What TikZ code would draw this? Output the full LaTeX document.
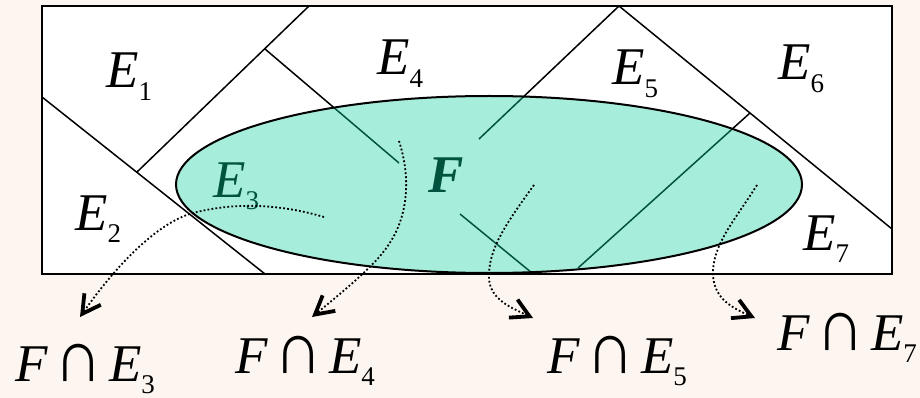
\documentclass[tikz,border=0pt]{standalone}
\usepackage{fontspec}
\setmainfont{Liberation Serif}
\usetikzlibrary{arrows.meta}
\definecolor{bgpeach}{HTML}{FDF5EF}
\definecolor{efill}{HTML}{A7EDDC}
\definecolor{dgreen}{HTML}{00533F}
\newcommand\mainsize{\fontsize{53}{60}\selectfont}
\newcommand\Esb[1]{\textit{E}\raisebox{-12.5pt}{\fontsize{27}{30}\selectfont #1}}
\newcommand\FcapE[1]{\textit{F}\hspace{6pt}\scalebox{0.9}[1]{\fontsize{74}{74}\selectfont ∩}\hspace{7pt}\Esb{#1}}
\begin{document}
\begin{tikzpicture}[x=1pt,y=-1pt,
  lbl/.style={anchor=base west, inner sep=0pt, font=\mainsize},
  region/.style={line width=1.5pt, black},
  innerline/.style={line width=1.5pt, dgreen},
  flow/.style={line width=1.8pt, dash pattern=on 1.8pt off 2.2pt,
    -{Straight Barb[length=18pt,width=20pt,line width=3.8pt 0 1]}}
]
\fill[bgpeach] (0,0) rectangle (920,398);
\clip (0,0) rectangle (920,398);
% frame
\coordinate (TL) at (42,6);
\coordinate (BR) at (892,274);
\fill[white] (TL) rectangle (BR);
% region boundaries
\coordinate (A1) at (309,6);
\coordinate (J1) at (265,49);
\coordinate (B1) at (137,172);
\coordinate (L3a) at (42,97);
\coordinate (L3b) at (265,274);
\coordinate (L2e) at (399,163);
\coordinate (Apex) at (619,6);
\coordinate (L4e) at (479,139);
\coordinate (J2) at (750,113);
\coordinate (L5e) at (892,229);
\coordinate (L6e) at (578,268);
\coordinate (L7a) at (460,214);
\coordinate (L7b) at (532,273);
\coordinate (C) at (489,184.5);
\draw[region] (A1) -- (B1);
\draw[region] (J1) -- (L2e);
\draw[region] (L3a) -- (L3b);
\draw[region] (Apex) -- (L4e);
\draw[region] (Apex) -- (L5e);
\draw[region] (J2) -- (L6e);
% set F
\fill[efill] (C) ellipse [x radius=313pt, y radius=88.5pt];
\begin{scope}
  \clip (C) ellipse [x radius=313pt, y radius=88.5pt];
  \draw[innerline] (A1) -- (B1);
  \draw[innerline] (J1) -- (L2e);
  \draw[innerline] (L3a) -- (L3b);
  \draw[innerline] (Apex) -- (L4e);
  \draw[innerline] (Apex) -- (L5e);
  \draw[innerline] (J2) -- (L6e);
  \draw[innerline] (L7a) -- (L7b);
\end{scope}
\draw[line width=2pt] (C) ellipse [x radius=313pt, y radius=88.5pt];
\draw[line width=2pt] (TL) rectangle (BR);
% labels
\node[lbl] (e1) at (106,88) {\Esb{1}};
\node[lbl] (e4) at (377,75) {\Esb{4}};
\node[lbl] (e5) at (612,85) {\Esb{5}};
\node[lbl] (e6) at (778,80) {\Esb{6}};
\node[lbl] (e2) at (75,230) {\Esb{2}};
\node[lbl, text=dgreen] (e3) at (213,197) {\Esb{3}};
\node[lbl] (e7) at (803,250) {\Esb{7}};
\node[lbl, text=dgreen] (f) at (428,193) {\textbf{\textit{F}}};
\node[lbl] (fe3) at (15,381) {\FcapE{3}};
\node[lbl] (fe4) at (235,373) {\FcapE{4}};
\node[lbl] (fe5) at (547,373) {\FcapE{5}};
\node[lbl] (fe7) at (777,350) {\FcapE{7}};
% arrows
\coordinate (s3) at (324,217);
\coordinate (m3) at (193,213);
\coordinate (t3) at (80,317);
\coordinate (s4) at (399,141);
\coordinate (m4) at (387,247);
\coordinate (t4) at (312,317);
\coordinate (s5) at (534,185);
\coordinate (m5) at (489,278);
\coordinate (t5) at (533,318);
\coordinate (s7) at (757,185);
\coordinate (m7) at (713,275);
\coordinate (t7) at (755,318);
\draw[flow] (s3) .. controls (280,204) and (235,202) .. (m3) .. controls (160,222) and (120,260) .. (t3);
\draw[flow] (s4) .. controls (410,175) and (410,215) .. (m4) .. controls (375,265) and (345,290) .. (t4);
\draw[flow] (s5) .. controls (505,225) and (488,250) .. (m5) .. controls (490,300) and (512,308) .. (t5);
\draw[flow] (s7) .. controls (735,220) and (712,245) .. (m7) .. controls (714,300) and (735,309) .. (t7);
\end{tikzpicture}
\end{document}
